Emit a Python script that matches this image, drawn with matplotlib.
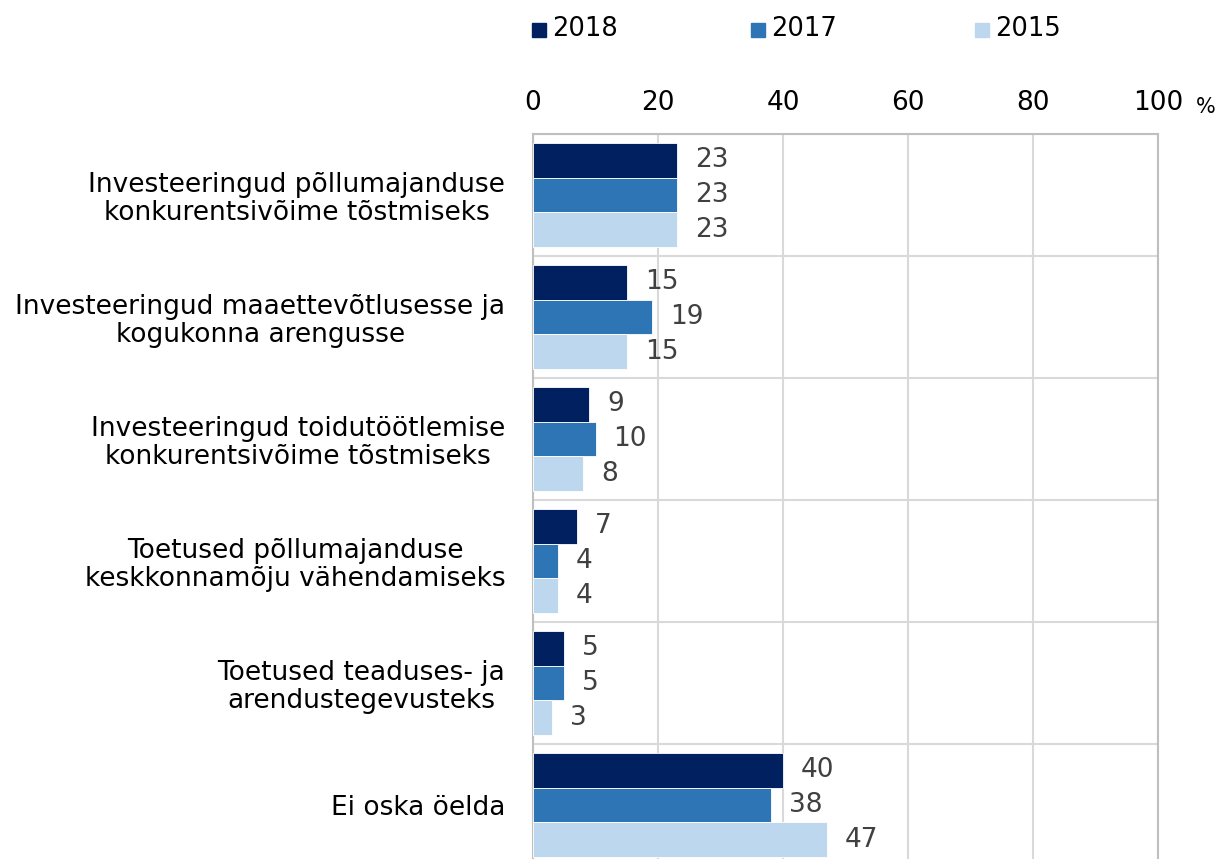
import matplotlib.pyplot as plt
import numpy as np
from matplotlib.patches import Rectangle

# Data
categories = [
    "Investeeringud põllumajanduse\nkonkurentsivõime tõstmiseks",
    "Investeeringud maaettevõtlusesse ja\nkogukonna arengusse",
    "Investeeringud toidutöötlemise\nkonkurentsivõime tõstmiseks",
    "Toetused põllumajanduse\nkeskkonnamõju vähendamiseks",
    "Toetused teaduses- ja\narendustegevusteks",
    "Ei oska öelda",
]
years = ["2018", "2017", "2015"]
values_2018 = [23, 15, 9, 7, 5, 40]
values_2017 = [23, 19, 10, 4, 5, 38]
values_2015 = [23, 15, 8, 4, 3, 47]
colors = ["#002060", "#2E75B6", "#BDD7EE"]

plt.rcParams['font.family'] = ['DejaVu Sans']

fig = plt.figure(figsize=(12.2, 8.59), dpi=100)
ax = fig.add_axes([533 / 1220, -7 / 859, 625 / 1220, 732 / 859])

y = np.arange(len(categories))
h = 0.284
series = [values_2018, values_2017, values_2015]
for i, (vals, c) in enumerate(zip(series, colors)):
    pos = y - h + i * h
    ax.barh(pos, vals, height=h, color=c, edgecolor='white', linewidth=0.6, zorder=3)
    for p, v in zip(pos, vals):
        ax.annotate(str(v), (v, p), xytext=(13, 0), textcoords='offset points',
                    va='center', ha='left', fontsize=19, color='#404040')

ax.set_xlim(0, 100)
ax.set_ylim(len(categories) - 0.5, -0.5)
ax.set_xticks(range(0, 101, 20))
ax.xaxis.tick_top()
ax.tick_params(axis='x', length=0, pad=13, labelsize=19)
ax.set_yticks(y)
ax.set_yticklabels(categories, fontsize=19, multialignment='center', linespacing=1.1)
ax.tick_params(axis='y', length=0, pad=20)

# category separators and vertical grid
ax.set_yticks(np.arange(-0.5, len(categories), 1), minor=True)
ax.tick_params(axis='y', which='minor', length=0)
ax.grid(axis='y', which='minor', color='#d9d9d9', linewidth=1.5, zorder=0)
ax.grid(axis='x', which='major', color='#d9d9d9', linewidth=1.5, zorder=0)
for s in ax.spines.values():
    s.set_color('#bfbfbf')
    s.set_linewidth(1.5)

fig.text(1196 / 1220, 1 - 107 / 859, "%", fontsize=15, ha='left', va='center')

# legend
for x0, lab, c in zip([532, 751, 975], years, colors):
    fig.patches.append(Rectangle((x0 / 1220, 1 - 37 / 859), 14 / 1220, 14 / 859,
                                 transform=fig.transFigure, color=c))
    fig.text((x0 + 20) / 1220, 1 - 29 / 859, lab, fontsize=18.5, ha='left', va='center')

fig.savefig("out.png", dpi=100)
